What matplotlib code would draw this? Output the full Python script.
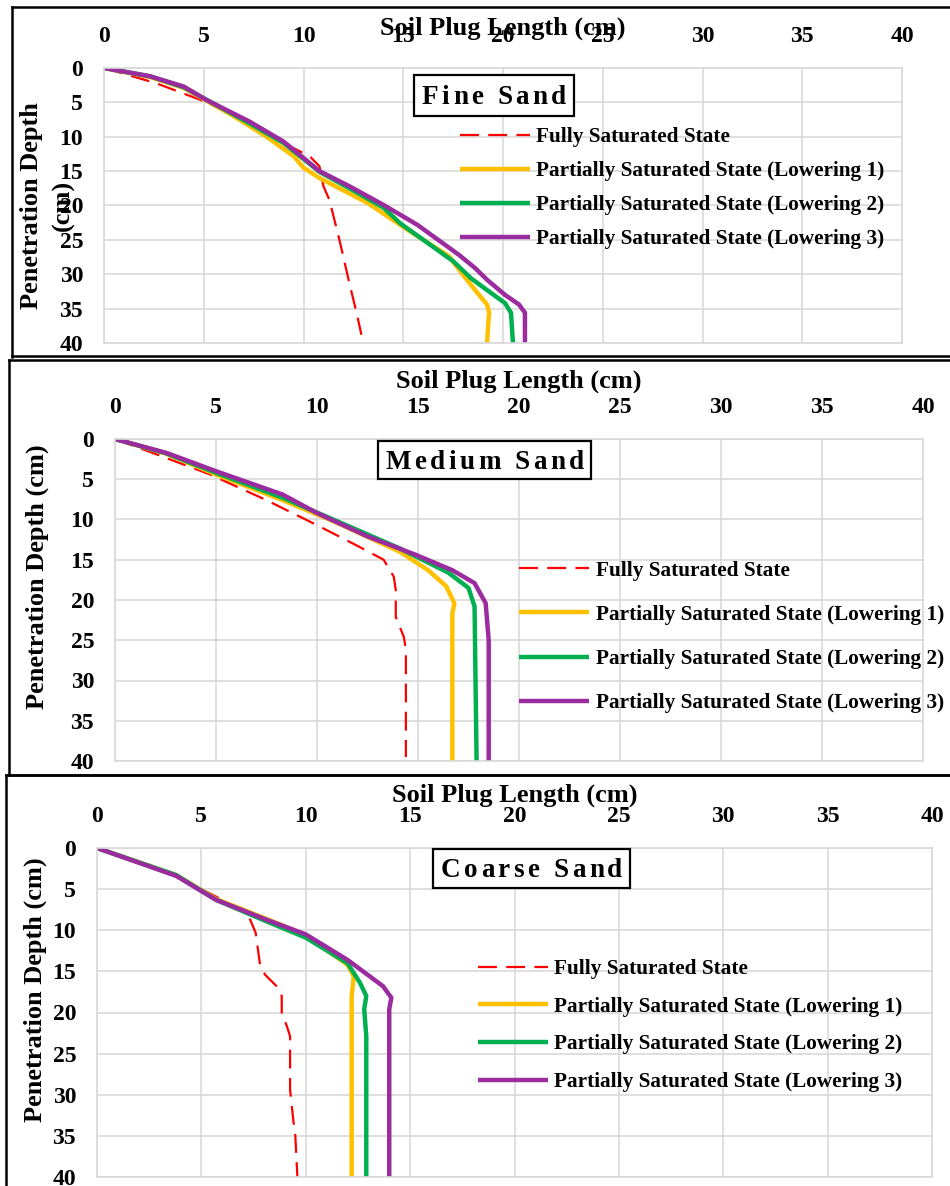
import matplotlib
matplotlib.use('Agg')
import matplotlib.pyplot as plt
from matplotlib.lines import Line2D
from matplotlib.patches import Rectangle
from matplotlib import font_manager
from matplotlib.ft2font import FT2Font

# ---- data (x = soil plug length, d = penetration depth, cm)
labels = ['Fully Saturated State',
          'Partially Saturated State (Lowering 1)',
          'Partially Saturated State (Lowering 2)',
          'Partially Saturated State (Lowering 3)']
colors = ['#FF0000', '#FFC000', '#00B050', '#9B2C9F']
ticks = [0, 5, 10, 15, 20, 25, 30, 35, 40]

fine_full_x = [0, 2.6, 4.8, 6.5, 8.1, 9.8, 10.3, 10.8, 11.0, 11.3, 11.8, 12.3, 12.7, 12.9]
fine_full_d = [0, 2.2, 4.6, 6.8, 9.5, 12.1, 12.8, 14.3, 17.2, 19.2, 25.0, 31.3, 36.1, 38.8]
fine_l1_x = [0, 2.3, 4.0, 6.5, 8.1, 9.5, 10.0, 10.8, 13.2, 15.2, 17.3, 18.0, 18.6, 19.2, 19.3, 19.2]
fine_l1_d = [0, 1.3, 2.9, 7.0, 9.9, 12.8, 14.5, 16.0, 19.6, 23.5, 27.4, 30.1, 32.3, 34.4, 35.6, 40]
fine_l2_x = [0, 2.3, 4.0, 7.2, 9.0, 10.8, 12.3, 14.0, 14.85, 17.5, 18.4, 19.2, 20.1, 20.4, 20.5]
fine_l2_d = [0, 1.2, 2.8, 7.9, 10.9, 15.1, 17.5, 20.3, 22.6, 28.1, 30.6, 32.3, 34.2, 35.6, 40]
fine_l3_x = [0, 2.3, 4.0, 5.1, 7.3, 9.0, 10.8, 12.3, 14.0, 15.7, 17.8, 18.6, 19.2, 20.1, 20.8, 21.1, 21.1]
fine_l3_d = [0, 1.2, 2.7, 4.6, 7.8, 10.7, 15.0, 17.2, 19.9, 22.8, 27.2, 29.1, 30.8, 33.0, 34.4, 35.6, 40]

med_full_x = [0, 2.1, 4.7, 7.5, 10.0, 12.1, 13.3, 13.8, 13.9, 13.9, 14.3, 14.4, 14.4]
med_full_d = [0, 1.95, 4.4, 7.6, 10.7, 13.4, 15.0, 17.1, 18.8, 22.1, 24.6, 26.2, 39.5]
med_l1_x = [0, 2.5, 5.0, 8.3, 10.8, 14.1, 15.5, 16.4, 16.8, 16.7, 16.7]
med_l1_d = [0, 1.8, 4.4, 7.6, 10.2, 14.0, 16.3, 18.3, 20.4, 21.7, 40]
med_l2_x = [0, 2.5, 5.0, 8.3, 10.8, 14.1, 16.5, 17.5, 17.8, 17.9]
med_l2_d = [0, 1.75, 4.2, 7.3, 10.0, 13.6, 16.6, 18.5, 20.8, 40]
med_l3_x = [0, 2.56, 5.0, 8.3, 10.0, 12.5, 14.9, 16.7, 17.8, 18.35, 18.5, 18.5]
med_l3_d = [0, 1.74, 4.0, 6.9, 9.2, 12.1, 14.4, 16.3, 17.9, 20.4, 25.0, 40]

coarse_full_x = [0, 3.7, 4.6, 5.7, 6.85, 7.3, 7.6, 7.8, 8.05, 8.6, 8.85, 8.85, 9.1, 9.25, 9.25, 9.4, 9.5, 9.6]
coarse_full_d = [0, 3.4, 4.5, 5.9, 7.5, 8.5, 10.3, 14.0, 15.4, 16.8, 18.0, 20.0, 21.7, 22.9, 29.4, 33.0, 35.0, 40]
coarse_l1_x = [0, 3.8, 5.7, 8.1, 10.0, 12.0, 12.3, 12.2, 12.2]
coarse_l1_d = [0, 3.3, 6.2, 8.6, 10.6, 14.2, 15.6, 18.0, 40]
coarse_l2_x = [0, 3.8, 5.7, 8.1, 10.0, 12.0, 12.6, 12.9, 12.8, 12.9, 12.9]
coarse_l2_d = [0, 3.3, 6.3, 8.9, 10.9, 14.0, 16.4, 18.0, 19.6, 22.9, 40]
coarse_l3_x = [0, 3.8, 5.7, 8.1, 10.0, 12.0, 13.7, 14.1, 14.0, 14.0]
coarse_l3_d = [0, 3.4, 6.3, 8.7, 10.5, 13.6, 16.8, 18.2, 19.6, 40]

W, H = 950, 1186
plt.rcParams['font.family'] = ['Liberation Serif', 'DejaVu Serif']
plt.rcParams['font.weight'] = 'bold'
fig = plt.figure(figsize=(W / 100, H / 100), dpi=100)


def fx(px):
    return px / W


def fy(py):
    return 1 - py / H


def spaced_title(cx, cy, s, size, extra, bw, bh):
    # letter-spaced title inside a white box, like the excel text boxes
    path = font_manager.findfont(font_manager.FontProperties(family='Liberation Serif', weight='bold'))
    font = FT2Font(path)
    font.set_size(size, 100)
    hf = plt.rcParams['text.hinting_factor']
    adv = [font.load_char(ord(c)).horiAdvance / 64 / hf for c in s]
    total = sum(adv) + extra * (len(s) - 1)
    fig.add_artist(Rectangle((fx(cx - bw / 2), fy(cy + bh / 2)), bw / W, bh / H,
                             transform=fig.transFigure, fc='white', ec='black', lw=1.6))
    x = cx - total / 2
    base = cy + 0.662 * size * 100 / 72 / 2
    for c, a in zip(s, adv):
        fig.text(fx(x), fy(base), c, fontsize=size, ha='left', va='baseline', zorder=5)
        x += a + extra


# panel layout in pixels: axes box, labels, legend, title box
panels = [
    dict(box=(104, 68, 902, 343), xs=[fine_full_x, fine_l1_x, fine_l2_x, fine_l3_x],
         ds=[fine_full_d, fine_l1_d, fine_l2_d, fine_l3_d], xlab_y=28,
         leg=(460, 188), lsp=0.66, title='Fine Sand', tbox=(494, 95.5, 160, 41)),
    dict(box=(115, 439, 923, 761), xs=[med_full_x, med_l1_x, med_l2_x, med_l3_x],
         ds=[med_full_d, med_l1_d, med_l2_d, med_l3_d], xlab_y=381,
         leg=(519, 637), lsp=1.14, title='Medium Sand', tbox=(484.5, 460, 213, 38)),
    dict(box=(97, 848, 932, 1177), xs=[coarse_full_x, coarse_l1_x, coarse_l2_x, coarse_l3_x],
         ds=[coarse_full_d, coarse_l1_d, coarse_l2_d, coarse_l3_d], xlab_y=795,
         leg=(478, 1025.5), lsp=0.83, title='Coarse Sand', tbox=(531.5, 868.5, 197, 39)),
]

for p in panels:
    l, t, r, b = p['box']
    ax = fig.add_axes([fx(l), fy(b), (r - l) / W, (b - t) / H])
    ax.set_xlim(0, 40)
    ax.set_ylim(40, 0)
    ax.set_xticks(ticks)
    ax.set_yticks(ticks)
    ax.xaxis.tick_top()
    ax.tick_params(length=0, pad=15, labelsize=17)
    ax.grid(True, color='#d9d9d9', lw=1.2)
    ax.set_axisbelow(True)
    for sp in ax.spines.values():
        sp.set_color('#d9d9d9')
        sp.set_linewidth(1.2)

    handles = []
    for i in range(4):
        if i == 0:
            ln, = ax.plot(p['xs'][i], p['ds'][i], color=colors[i], lw=1.6,
                          dashes=(8.5, 4.2), label=labels[i])
        else:
            ln, = ax.plot(p['xs'][i], p['ds'][i], color=colors[i], lw=3.2,
                          solid_joinstyle='round', solid_capstyle='butt', label=labels[i])
        handles.append(ln)

    ax.legend(handles=handles, loc='center left', bbox_to_anchor=(fx(p['leg'][0]), fy(p['leg'][1])),
              bbox_transform=fig.transFigure, frameon=False, fontsize=15.3,
              handlelength=3.3, handletextpad=0.3, labelspacing=p['lsp'],
              borderpad=0, borderaxespad=0)

    fig.text(fx((l + r) / 2), fy(p['xlab_y']), 'Soil Plug Length (cm)', fontsize=19,
             ha='center', va='center')
    cx, cy, bw, bh = p['tbox']
    spaced_title(cx, cy, p['title'], 19.5, 3.5, bw, bh)

# y axis titles
fig.text(fx(32), fy(206), 'Penetration Depth', fontsize=19, rotation=90, ha='center', va='center')
fig.text(fx(63), fy(205), '(cm)', fontsize=19, rotation=90, ha='center', va='center')
fig.text(fx(37), fy(577), 'Penetration Depth (cm)', fontsize=19, rotation=90, ha='center', va='center')
fig.text(fx(35), fy(990), 'Penetration Depth (cm)', fontsize=19, rotation=90, ha='center', va='center')

# panel frames (the three charts were pasted one under the other)
frames = [
    ([12, 12], [7, 357]), ([12, 950], [7, 7]), ([12, 950], [356, 356]),
    ([9, 9], [360, 775]), ([9, 950], [360, 360]), ([9, 950], [775, 775]),
    ([6, 6], [775, 1186]), ([6, 950], [775, 775]),
]
for xs_, ys_ in frames:
    fig.add_artist(Line2D([fx(v) for v in xs_], [fy(v) for v in ys_], color='black', lw=1.8,
                          transform=fig.transFigure))

fig.savefig('out.png', dpi=100)
